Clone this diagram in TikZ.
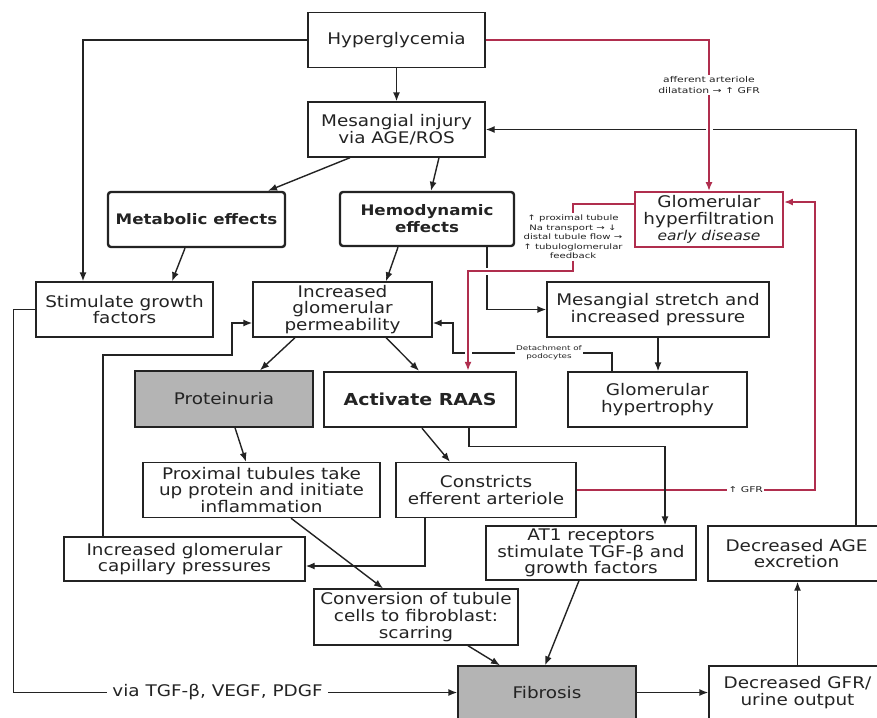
\documentclass[tikz,border=0pt]{standalone}
\usepackage{fontspec}
\setmainfont{DejaVu Sans}[FakeStretch=1.15]
\newfontfamily\notefont{DejaVu Sans}[FakeStretch=1.35]
\usetikzlibrary{arrows.meta}
\pgfdeclarelayer{bg}
\pgfsetlayers{bg,main}

\definecolor{hfred}{RGB}{176,46,78}
\definecolor{boxgrey}{RGB}{180,180,180}
\definecolor{ink}{RGB}{35,35,35}

\begin{document}
\begin{tikzpicture}[x=1pt,y=-1pt,>={Latex[length=9pt,width=7pt]},
  font=\fontsize{16}{16.7}\selectfont,
  box/.style={draw=ink,line width=1.4pt,fill=white,align=center,inner sep=2pt,text=ink},
  boldbox/.style={box,line width=2.4pt,rounded corners=3pt,font=\fontsize{14.5}{17}\selectfont\bfseries},
  greybox/.style={box,fill=boxgrey},
  redbox/.style={box,draw=hfred,line width=1.8pt},
  link/.style={draw=ink,line width=1.4pt,->},
  redline/.style={draw=hfred,line width=2pt},
  halo/.style={draw=white,line width=7pt},
  note/.style={fill=white,inner sep=1.5pt,align=center,text=ink,font=\notefont\fontsize{7.5}{9.5}\selectfont}]
  \useasboundingbox (0,0) rectangle (877,717);

  \node[box,minimum width=177pt,minimum height=55pt] (hyper) at (396.5,40) {Hyperglycemia};
  \node[box,minimum width=177pt,minimum height=55pt] (mesang) at (396.5,129.5) {Mesangial injury\\via AGE/ROS};
  \node[boldbox,minimum width=177pt,minimum height=55pt] (metab) at (196.5,219.5) {Metabolic effects};
  \node[boldbox,minimum width=174pt,minimum height=54pt] (hemo) at (427,219) {Hemodynamic\\effects};
  \node[redbox,minimum width=148pt,minimum height=55pt] (hyperf) at (709,219.5)
    {Glomerular\\hyperfiltration\\{\itshape\fontsize{13.5}{14}\selectfont early disease}};
  \node[box,minimum width=177pt,minimum height=55pt] (stim) at (124.5,309.5) {Stimulate growth\\factors};
  \node[box,minimum width=179pt,minimum height=55pt] (perm) at (342.5,309.5) {Increased\\glomerular\\permeability};
  \node[box,minimum width=222pt,minimum height=55pt] (stretch) at (658,309.5) {Mesangial stretch and\\increased pressure};
  \node[greybox,minimum width=178pt,minimum height=56pt] (prot) at (224,399) {Proteinuria};
  \node[box,line width=2.4pt,minimum width=192pt,minimum height=55pt,
    font=\fontsize{16.5}{18}\selectfont\bfseries] (raas) at (420,399.5) {Activate RAAS};
  \node[box,minimum width=179pt,minimum height=55pt] (hypert) at (657.5,399.5) {Glomerular\\hypertrophy};
  \node[box,minimum width=237pt,minimum height=55pt] (prox) at (261.5,490) {Proximal tubules take\\up protein and initiate\\inflammation};
  \node[box,minimum width=180pt,minimum height=55pt] (constr) at (486,490) {Constricts\\efferent arteriole};
  \node[box,minimum width=241pt,minimum height=44pt] (cap) at (184.5,559) {Increased glomerular\\capillary pressures};
  \node[box,minimum width=210pt,minimum height=54pt] (at1) at (591,553) {AT1 receptors\\stimulate TGF-β and\\growth factors};
  \node[box,minimum width=177pt,minimum height=55pt] (dage) at (796.5,553.5) {Decreased AGE\\excretion};
  \node[box,minimum width=204pt,minimum height=56pt] (conv) at (416,617) {Conversion of tubule\\cells to fibroblast:\\scarring};
  \node[greybox,minimum width=178pt,minimum height=53pt] (fib) at (547,692.5) {Fibrosis};
  \node[box,minimum width=177pt,minimum height=53pt] (dgfr) at (797.5,692.5) {Decreased GFR/\\urine output};

  \node[note] (tgfnote) at (573,237) {↑ proximal tubule\\Na transport → ↓\\distal tubule flow →\\↑ tubuloglomerular\\feedback};
  \node[note,font=\notefont\fontsize{6.5}{8}\selectfont] (podo) at (549,353) {Detachment of\\podocytes};
  \coordinate (dtc) at (453,323);
  \coordinate (clp) at (232,355);
  \coordinate (fbk) at (573,271);

  \begin{pgfonlayer}{bg}
  \fill[white] (0,0) rectangle (877,717);
  \draw[link] (hyper) -- (mesang);
  \draw[link] (hyper.west) -| ([xshift=-41.5pt]stim.north);
  \draw[link] ([xshift=59.5pt]dage.north) |- (mesang.east);
  \draw[link] ([xshift=-46.5pt]mesang.south) -- ([xshift=71.5pt]metab.north);
  \draw[link] ([xshift=42.5pt]mesang.south) -- ([xshift=4pt]hemo.north);
  \draw[link] ([xshift=-11.5pt]metab.south) -- ([xshift=47.5pt]stim.north);
  \draw[link] ([xshift=-29pt]hemo.south) -- ([xshift=43.5pt]perm.north);
  \draw[link] ([xshift=60pt]hemo.south) |- (stretch.west);
  \draw[link] ([xshift=-47.5pt]perm.south) -- ([xshift=36pt]prot.north);
  \draw[link] ([xshift=43.5pt]perm.south) -- ([xshift=-1pt]raas.north);
  \draw[link] (stretch.south) -- (stretch.south |- hypert.north);
  \draw[link,-] ([xshift=-45.5pt]hypert.north) |- (podo.east);
  \draw[link] (podo.west) -| (dtc) -- ([yshift=-13.5pt]perm.east);
  \draw[link] ([xshift=11pt]prot.south) -- ([xshift=-15.5pt]prox.north);
  \draw[link] ([xshift=2pt]raas.south) -- ([xshift=-36pt]constr.north);
  \draw[link] ([xshift=-61pt]constr.south) |- ([yshift=-7pt]cap.east);
  \draw[link] ([xshift=-81.5pt]cap.north) |- (clp) |- ([yshift=-13.5pt]perm.west);
  \draw[link] ([xshift=29.5pt]prox.south) -- ([xshift=-33pt]conv.north);
  \draw[link] ([xshift=52pt]conv.south) -- ([xshift=-47pt]fib.north);
  \draw[link] ([xshift=-12pt]at1.south) -- ([xshift=-2pt]fib.north);
  \draw[link] (stim.west) -- ++(-22,0) |- node[pos=.73,fill=white,inner sep=5pt,text=ink]{via TGF-β, VEGF, PDGF} (fib.west);
  \draw[link] (fib) -- (dgfr);
  \draw[link] (dgfr.north) -- (dgfr.north |- dage.south);

  \draw[halo] (hyper.east -| hyperf.north) -- ([yshift=4pt]hyperf.north);
  \draw[halo] (tgfnote.south) -- (fbk) -| ([xshift=48pt,yshift=6pt]raas.north);
  \draw[redline,->] (hyper.east) -| node[note,font=\notefont\fontsize{8}{11}\selectfont,pos=.65]
    {afferent arteriole\\dilatation → ↑ GFR} (hyperf.north);
  \draw[redline] ([yshift=15.5pt]hyperf.west) -| (tgfnote.north);
  \draw[redline,->] (tgfnote.south) -- (fbk) -| ([xshift=48pt]raas.north);
  \draw[redline,->] (constr.east) -- node[note,font=\notefont\fontsize{8}{10}\selectfont,pos=.71]{↑ GFR}
    ++(238,0) |- ([yshift=17.5pt]hyperf.east);
  \draw[link] ([xshift=49pt]raas.south) -- ++(0,18) -| ([xshift=74pt]at1.north);
  \end{pgfonlayer}
\end{tikzpicture}
\end{document}
